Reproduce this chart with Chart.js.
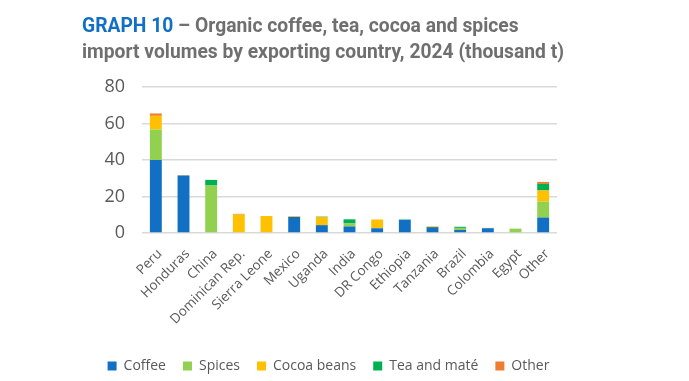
<!DOCTYPE html>
<html><head><meta charset="utf-8">
<script src="https://cdn.jsdelivr.net/npm/chart.js@4"></script>
<style>
html,body{margin:0;padding:0;background:#fff;width:689px;height:381px;overflow:hidden}
#title{position:absolute;left:82px;top:12px;font-family:Roboto,"Noto Sans",sans-serif;font-weight:700;font-size:20px;line-height:26px;color:#6f6f6f;white-space:nowrap;transform-origin:0 0}
#title .b{color:#1170c4}
#wrap{position:absolute;left:0;top:0;width:689px;height:381px}
</style></head>
<body>
<div id="wrap"><canvas id="c" width="689" height="381"></canvas></div>
<div id="title"><div id="l1"><span class="b">GRAPH 10</span> – Organic coffee, tea, cocoa and spices</div><div id="l2">import volumes by exporting country, 2024 (thousand t)</div></div>
<script>
const categories = ["Peru","Honduras","China","Dominican Rep.","Sierra Leone","Mexico","Uganda","India","DR Congo","Ethiopia","Tanzania","Brazil","Colombia","Egypt","Other"];
const coffee = [40, 31.5, 0, 0, 0, 8.8, 4.3, 3.6, 2.6, 7.2, 3.2, 1.7, 2.6, 0, 8.5];
const spices = [16.7, 0, 26, 0, 0, 0, 0, 1.6, 0, 0, 0, 1.1, 0, 2.4, 8.7];
const cocoa = [7.5, 0.3, 0, 10.1, 9.3, 0.3, 4.5, 0, 4.8, 0, 0.5, 0, 0, 0, 6.1];
const tea = [0, 0, 3.1, 0, 0, 0, 0.2, 2.3, 0, 0.2, 0, 0.6, 0, 0, 3.6];
const other = [1.3, 0, 0, 0.4, 0, 0.2, 0, 0, 0, 0, 0, 0, 0.2, 0, 1.1];
const yTicks = [0, 20, 40, 60, 80];

const l2 = document.getElementById('l2');
const w = l2.getBoundingClientRect().width;
document.getElementById('title').style.transform = 'scaleX(' + (482 / w) + ')';

const mk = (label, data, color) => ({label, data, backgroundColor: color, borderWidth: 0, barPercentage: 0.43, categoryPercentage: 1});
new Chart(document.getElementById('c'), {
  type: 'bar',
  data: {
    labels: categories,
    datasets: [
      mk('Coffee', coffee, '#1170c4'),
      mk('Spices', spices, '#92d050'),
      mk('Cocoa beans', cocoa, '#ffc000'),
      mk('Tea and maté', tea, '#00b050'),
      mk('Other', other, '#ed7d31')
    ]
  },
  options: {
    responsive: false,
    animation: false,
    layout: {padding: {top: 87, left: 0, right: 32, bottom: -2}},
    plugins: {
      legend: {
        position: 'bottom',
        labels: {boxWidth: 9, boxHeight: 9, padding: 17, color: '#595959', font: {family: 'Open Sans', size: 14}}
      },
      tooltip: {enabled: false}
    },
    scales: {
      x: {
        stacked: true,
        grid: {display: false},
        border: {display: false},
        ticks: {color: '#595959', font: {family: 'Open Sans', size: 13.5}, minRotation: 45, maxRotation: 45, autoSkip: false, padding: 5, labelOffset: 4},
        afterFit: (s) => { s.height = 109; }
      },
      y: {
        stacked: true,
        min: 0, max: 80,
        afterBuildTicks: (s) => { s.ticks = yTicks.map(v => ({value: v})); },
        grid: {color: '#d9d9d9', lineWidth: 1.5, drawTicks: false},
        border: {display: false},
        ticks: {color: '#595959', font: {family: 'Open Sans', size: 18}, padding: 17},
        afterFit: (s) => { s.width = 142; }
      },
      y2: {
        position: 'right',
        display: true,
        grid: {display: false},
        border: {display: false},
        ticks: {display: false},
        afterFit: (s) => { s.width = 100; }
      }
    }
  }
});
</script>
</body></html>
